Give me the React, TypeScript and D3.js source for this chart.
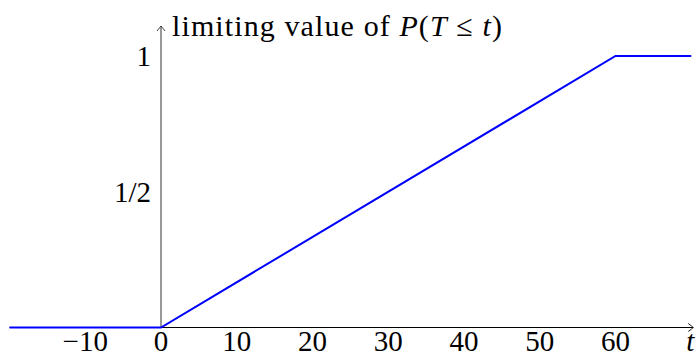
import React from "react";
import * as d3 from "d3";

// Piecewise-linear limiting CDF: 0 before t=0, rising linearly to 1 at t=60
const tValues = [-20, 0, 60, 70];
const pValues = [0, 0, 1, 1];
const xTicks = [-10, 0, 10, 20, 30, 40, 50, 60];
const yTicks = [0.5, 1];
const yTickLabels = ["1/2", "1"];

const W = 696;
const H = 358;

export default function App() {
  const x = d3.scaleLinear().domain([0, 60]).range([161, 615.5]);
  const y = d3.scaleLinear().domain([0, 1]).range([327.5, 56]);
  const line = d3
    .line<number>()
    .x((_, i) => x(tValues[i]))
    .y((d) => y(d));
  const font = "'Liberation Serif', 'DejaVu Serif', serif";
  const fs = 29;
  const axisRight = x(70) + 2;
  const axisTop = 26;

  return (
    <svg
      width={W}
      height={H}
      style={{ position: "absolute", left: 0, top: 0 }}
      fontFamily={font}
    >
      <rect width={W} height={H} fill="#fff" />
      {/* x axis */}
      <line x1={x(-20)} x2={axisRight} y1={y(0)} y2={y(0)} stroke="#000" strokeWidth={1} />
      <path
        d={`M${axisRight - 5},${y(0) - 4} Q${axisRight - 1},${y(0) - 1} ${axisRight},${y(0)} Q${axisRight - 1},${y(0) + 1} ${axisRight - 5},${y(0) + 4}`}
        fill="none"
        stroke="#000"
        strokeWidth={0.9}
      />
      {/* y axis */}
      <line x1={x(0)} x2={x(0)} y1={y(0)} y2={axisTop} stroke="#333" strokeWidth={1} />
      <path
        d={`M${x(0) - 4},${axisTop + 5} Q${x(0) - 1},${axisTop + 1} ${x(0)},${axisTop} Q${x(0) + 1},${axisTop + 1} ${x(0) + 4},${axisTop + 5}`}
        fill="none"
        stroke="#333"
        strokeWidth={0.9}
      />
      {/* curve */}
      <path d={line(pValues) ?? ""} fill="none" stroke="#0000ff" strokeWidth={2} />
      {/* x tick labels */}
      {xTicks.map((t) => (
        <text key={t} x={x(t)} y={351} fontSize={fs} textAnchor="middle" fill="#000">
          {t < 0 ? `\u2212${Math.abs(t)}` : `${t}`}
        </text>
      ))}
      <text x={x(70) - 1} y={351} fontSize={fs} fontStyle="italic" textAnchor="middle" fill="#000">
        t
      </text>
      {/* y tick labels */}
      {yTicks.map((v, i) => (
        <text key={v} x={x(0) - 10} y={y(v) + 10} fontSize={fs} textAnchor="end" fill="#000">
          {yTickLabels[i]}
        </text>
      ))}
      {/* y axis title */}
      <text x={172} y={36} fontSize={30} fill="#000" textLength={330} lengthAdjust="spacing">
        limiting value of <tspan fontStyle="italic">P</tspan>(<tspan fontStyle="italic">T</tspan> ≤{" "}
        <tspan fontStyle="italic">t</tspan>)
      </text>
    </svg>
  );
}
